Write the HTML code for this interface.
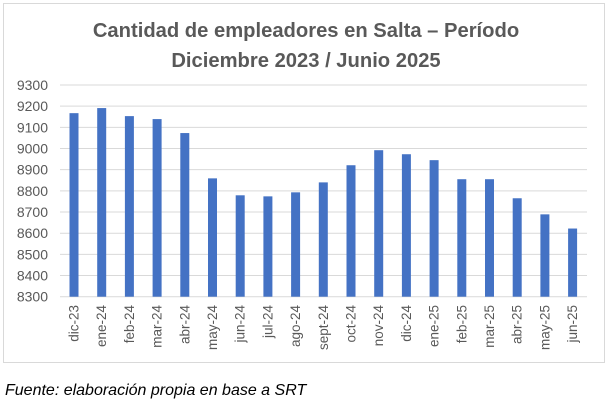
<!DOCTYPE html>
<html><head><meta charset="utf-8"><style>
body{margin:0;background:#fff;width:611px;height:407px;overflow:hidden}
svg{display:block}
</style></head><body>
<svg width="611" height="407" xmlns="http://www.w3.org/2000/svg" font-family="Liberation Sans, sans-serif">
<rect x="3.5" y="3.5" width="601" height="359" fill="#fff" stroke="#d9d9d9"/>
<text x="306" y="37" text-anchor="middle" font-size="20.2" font-weight="bold" fill="#595959">Cantidad de empleadores en Salta – Período</text>
<text x="306" y="67" text-anchor="middle" font-size="20.2" font-weight="bold" fill="#595959">Diciembre 2023 / Junio 2025</text>
<g id="g"></g>
<text x="5" y="395" font-size="16" font-style="italic" fill="#000">Fuente: elaboración propia en base a SRT</text>
</svg>
<script>
const g=document.getElementById('g');let s='';
const y0=296.7,k=211.7/1000;
for(let i=0;i<=10;i++){const v=8300+i*100,y=y0-i*100*k;
s+=`<line x1="60" x2="587" y1="${y}" y2="${y}" stroke="#d9d9d9"/>`;
s+=`<text x="48" y="${y+5}" text-anchor="end" font-size="14" fill="#595959">${v}</text>`;}
const L=['dic-23','ene-24','feb-24','mar-24','abr-24','may-24','jun-24','jul-24','ago-24','sept-24','oct-24','nov-24','dic-24','ene-25','feb-25','mar-25','abr-25','may-25','jun-25'];
const V=[9167,9191,9153,9139,9073,8859,8779,8774,8793,8840,8921,8992,8973,8945,8855,8855,8765,8689,8622];
L.forEach((l,i)=>{const c=74+i*27.7,h=(V[i]-8300)*k;
s+=`<rect x="${c-4.5}" y="${y0-h}" width="9" height="${h}" fill="#4472c4"/>`;
s+=`<text transform="translate(${c+4.5},305) rotate(-90)" text-anchor="end" font-size="13.5" fill="#595959">${l}</text>`;});
g.innerHTML=s;
</script>
</body></html>
